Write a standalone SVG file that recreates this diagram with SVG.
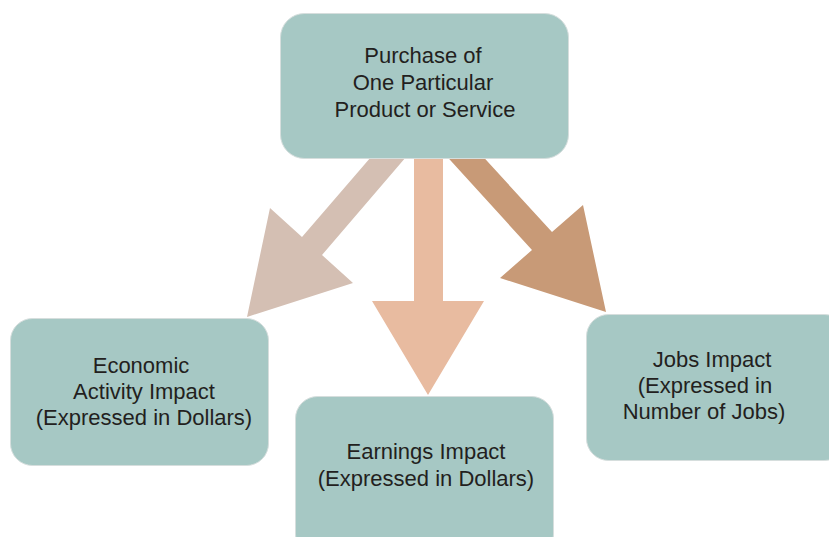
<svg xmlns="http://www.w3.org/2000/svg" width="829" height="537" viewBox="0 0 829 537">
  <style>
    .box { fill: #A6C8C4; stroke: #D6DEDD; stroke-width: 1; }
    .label { font-family: "Liberation Sans", Arial, sans-serif; font-size: 22px; fill: #231F20; text-anchor: middle; }
  </style>
  <rect width="829" height="537" fill="#FFFFFF"/>

  <!-- block arrows from the purchase box to each impact -->
  <g id="connectors">
    <polygon id="arrow-economic" fill="#D4BFB3" points="377,150 412,150 322,255 353,283 247,317 270,208 302,237"/>
    <polygon id="arrow-earnings" fill="#E8BBA0" points="414,150 443,150 443,301 484,301 428,395 372,301 414,301"/>
    <polygon id="arrow-jobs" fill="#C89A77" points="441,150 477,150 552,232 583,205 606,312 500,278 532,250"/>
  </g>

  <g id="purchase">
    <rect class="box" x="280.5" y="13.5" width="288" height="145" rx="24"/>
    <text class="label" x="423" y="63">Purchase of</text>
    <text class="label" x="423" y="90">One Particular</text>
    <text class="label" x="425" y="117">Product or Service</text>
  </g>

  <g id="economic">
    <rect class="box" x="10.5" y="318.5" width="258" height="147" rx="22"/>
    <text class="label" x="141" y="373">Economic</text>
    <text class="label" x="144" y="399">Activity Impact</text>
    <text class="label" x="144" y="425">(Expressed in Dollars)</text>
  </g>

  <g id="earnings">
    <rect class="box" x="295.5" y="396.5" width="258" height="160" rx="22"/>
    <text class="label" x="426" y="459">Earnings Impact</text>
    <text class="label" x="426" y="486">(Expressed in Dollars)</text>
  </g>

  <g id="jobs">
    <rect class="box" x="586.5" y="314.5" width="260" height="146" rx="22"/>
    <text class="label" x="712" y="367">Jobs Impact</text>
    <text class="label" x="705" y="393">(Expressed in</text>
    <text class="label" x="704" y="419">Number of Jobs)</text>
  </g>
</svg>
